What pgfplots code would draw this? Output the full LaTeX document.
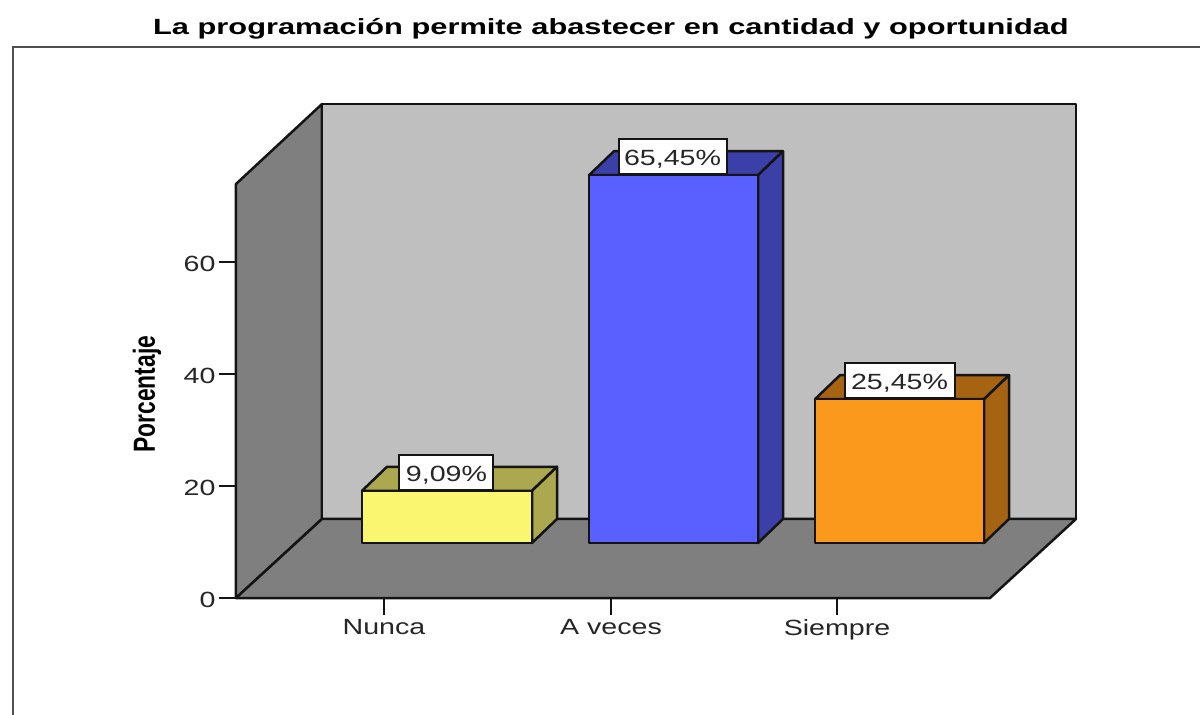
\documentclass[border=0pt]{standalone}
\usepackage{fontspec}
\setmainfont{Liberation Sans}
\newfontfamily\labfont[FakeStretch=1.3]{Liberation Sans}
\newfontfamily\titfont[FakeStretch=1.4]{Liberation Sans}
\newfontfamily\porcfont[FakeStretch=0.75]{Liberation Sans}
\usepackage{pgfplots}
\pgfplotsset{compat=1.18}
\definecolor{ink}{HTML}{141414}
\definecolor{txt}{HTML}{262626}
\definecolor{backw}{HTML}{BFBFBF}
\definecolor{sidew}{HTML}{7F7F7F}
\definecolor{yel}{HTML}{FBF66F}
\definecolor{yelS}{HTML}{ABA84F}
\definecolor{blu}{HTML}{5A60FF}
\definecolor{bluS}{HTML}{3B3FA8}
\definecolor{ora}{HTML}{FB991C}
\definecolor{oraS}{HTML}{A66413}
\tikzset{
  edge/.style={draw=ink, line width=2.5pt, line join=round},
  val/.style={draw=ink, fill=white, line width=2pt, inner sep=0pt, anchor=south,
    text=txt, font=\labfont\fontsize{22}{24}\selectfont, minimum height=35pt},
}
\newcommand{\vlab}[1]{\raisebox{-9pt}[8pt][8pt]{#1}}
\begin{document}
\begin{tikzpicture}
% 1 unit of x is 1 px of the reference, 1 unit of y is 5.6 px; axis corner sits at px (236,598)
\path[use as bounding box, fill=white] (-236pt,-117pt) rectangle (964pt,598pt);
\begin{axis}[
  scale only axis, width=754pt, height=414pt,
  xmin=236, xmax=990, ymin=0, ymax=73.93, clip=false,
  axis x line*=bottom, axis y line*=left,
  axis line style={draw=none, -},
  xtick={384,611,837}, xticklabels={Nunca,A veces,Siempre},
  ytick={0,20,40,60}, yticklabels={0,20,40,60},
  tick align=outside, tick style={draw=ink, line width=2.2pt},
  major tick length=17pt,
  ticklabel style={text=txt, font=\labfont\fontsize{22}{24}\selectfont},
  xticklabel style={yshift=-1pt},
  yticklabel style={xshift=0pt, yshift=-2pt},
  ylabel={\porcfont\bfseries\fontsize{30.5}{32}\selectfont Porcentaje},
  ylabel style={at={(axis cs:147,36.4)}, anchor=center, rotate=0, text=black},
]
% walls and floor
\addplot[edge, fill=sidew] coordinates {(236,0) (236,73.93) (322,88.21) (322,14.11)} --cycle;
\addplot[edge, fill=backw] coordinates {(322,14.11) (322,88.21) (1076,88.21) (1076,14.11)} --cycle;
\addplot[edge, fill=sidew] coordinates {(236,0) (322,14.11) (1076,14.11) (990,0)} --cycle;
% Nunca 9,09
\addplot[edge, fill=yelS] coordinates {(362,19.14) (387,23.43) (557,23.43) (532,19.14)} --cycle;
\addplot[edge, fill=yelS] coordinates {(532,9.82) (532,19.14) (557,23.43) (557,14.11)} --cycle;
\addplot[edge, fill=yel] coordinates {(362,9.82) (362,19.14) (532,19.14) (532,9.82)} --cycle;
% A veces 65,45
\addplot[edge, fill=bluS] coordinates {(589,75.50) (614,79.79) (783,79.79) (758,75.50)} --cycle;
\addplot[edge, fill=bluS] coordinates {(758,9.82) (758,75.50) (783,79.79) (783,14.11)} --cycle;
\addplot[edge, fill=blu] coordinates {(589,9.82) (589,75.50) (758,75.50) (758,9.82)} --cycle;
% Siempre 25,45
\addplot[edge, fill=oraS] coordinates {(815,35.50) (840,39.79) (1009,39.79) (984,35.50)} --cycle;
\addplot[edge, fill=oraS] coordinates {(984,9.82) (984,35.50) (1009,39.79) (1009,14.11)} --cycle;
\addplot[edge, fill=ora] coordinates {(815,9.82) (815,35.50) (984,35.50) (984,9.82)} --cycle;
% value boxes
\node[val, minimum width=94pt] at (axis cs:446.5,19.14) {\vlab{9,09\%}};
\node[val, minimum width=108pt] at (axis cs:672.5,75.50) {\vlab{65,45\%}};
\node[val, minimum width=110pt] at (axis cs:899.5,35.50) {\vlab{25,45\%}};
% outer frame and title
\draw[draw=ink!75, line width=2pt] (axis cs:12.8,-20.9) -- (axis cs:12.8,98.39) -- (axis cs:1200,98.39);
\node[font=\titfont\bfseries\fontsize{22}{24}\selectfont, text=black] at (axis cs:611,101.6)
  {La programación permite abastecer en cantidad y oportunidad};
\end{axis}
\end{tikzpicture}
\end{document}
